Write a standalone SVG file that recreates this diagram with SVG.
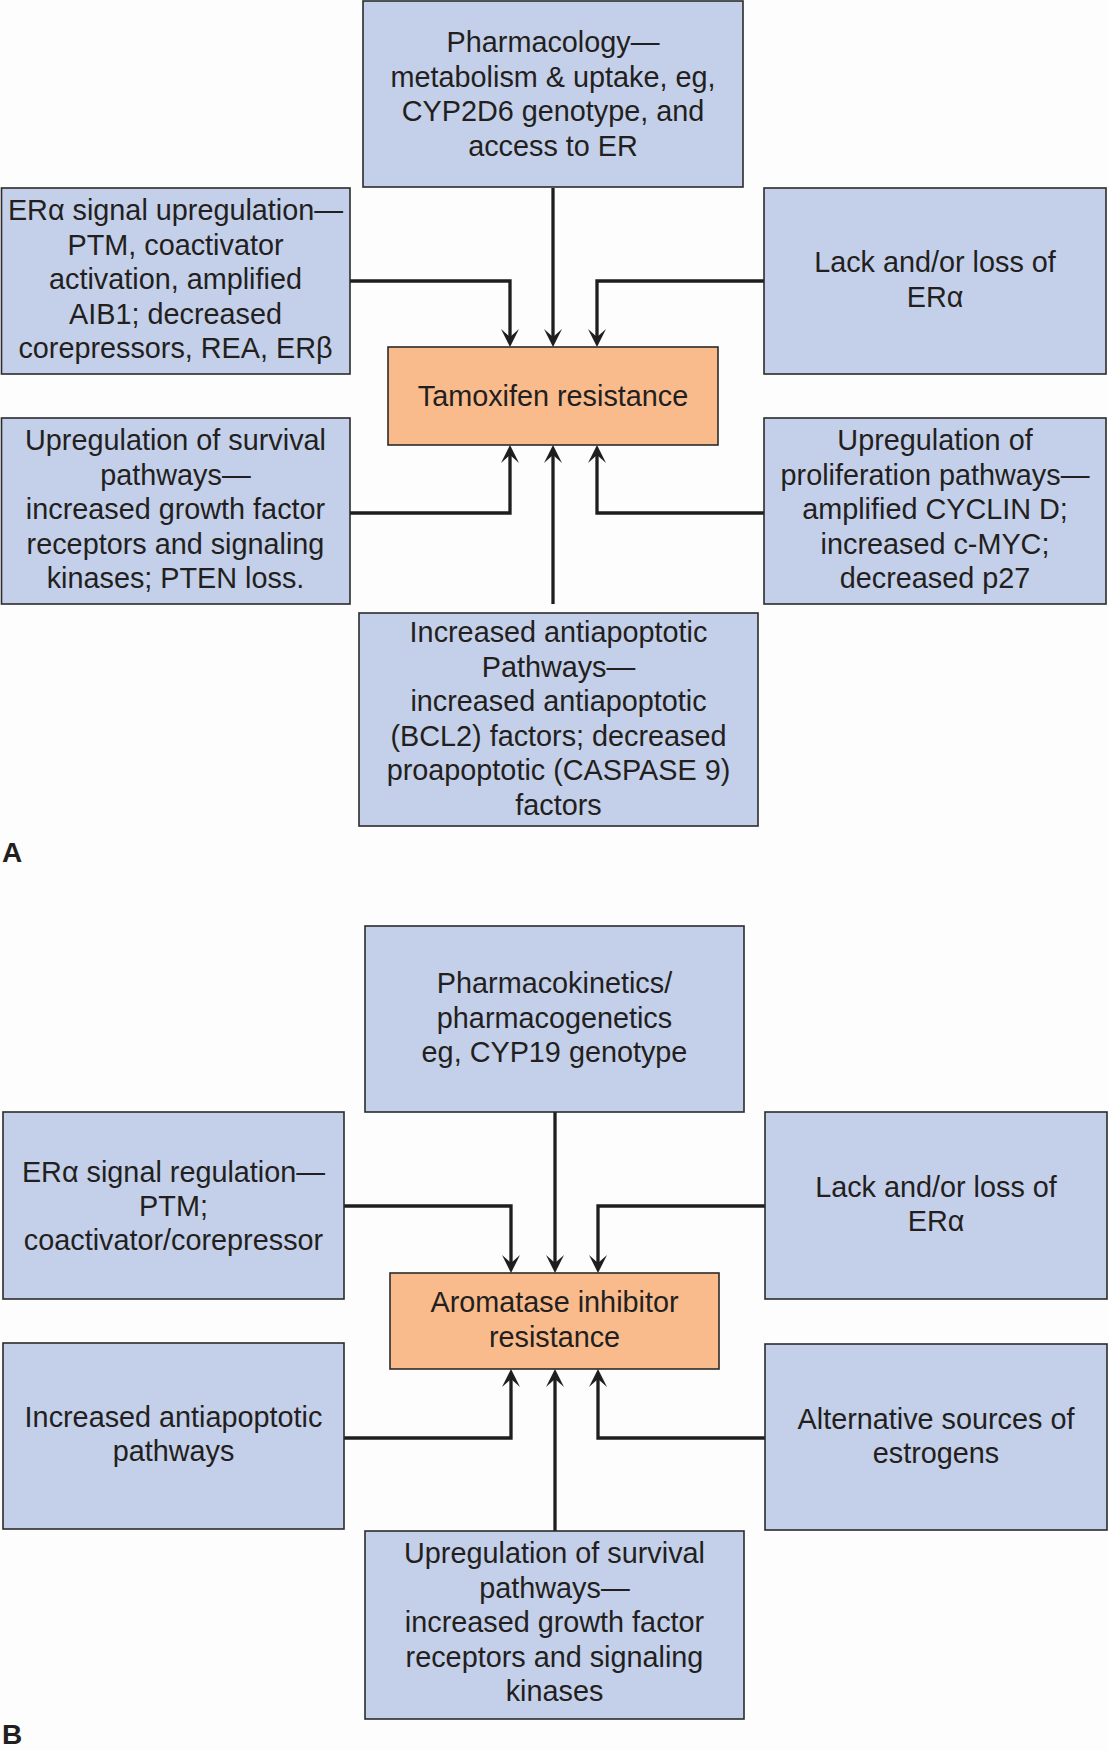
<svg xmlns="http://www.w3.org/2000/svg" width="1108" height="1751" viewBox="0 0 1108 1751">
<style>
.box{fill:#c4d0e9;stroke:#2b2b2b;stroke-width:1.6}
.hub{fill:#f9bb8c;stroke:#2b2b2b;stroke-width:1.6}
text{font-family:"Liberation Sans",Arial,sans-serif;font-size:28.8px;fill:#231f20;text-anchor:middle}
.lbl{font-weight:bold;font-size:28px;text-anchor:start}
.conn{fill:none;stroke:#1e1e1e;stroke-width:3.3}
</style>
<defs>
<marker id="ah" viewBox="-19 -10 20 20" refX="-9" refY="0" markerWidth="20" markerHeight="20" markerUnits="userSpaceOnUse" orient="auto">
<path d="M0,0 L-18,-9 L-10,0 L-18,9 Z" fill="#1e1e1e"/>
</marker>
</defs>
<rect x="0" y="0" width="1108" height="1751" fill="#fdfdfd"/>

<g id="connectors">
<path class="conn" d="M553,188 V338" marker-end="url(#ah)"/>
<path class="conn" d="M350,281 H510 V338" marker-end="url(#ah)"/>
<path class="conn" d="M764,281 H597 V338" marker-end="url(#ah)"/>
<path class="conn" d="M350,513 H510 V454" marker-end="url(#ah)"/>
<path class="conn" d="M553,604 V454" marker-end="url(#ah)"/>
<path class="conn" d="M764,513 H597 V454" marker-end="url(#ah)"/>

<path class="conn" d="M555,1112 V1264" marker-end="url(#ah)"/>
<path class="conn" d="M344,1206 H511 V1264" marker-end="url(#ah)"/>
<path class="conn" d="M765,1206 H598 V1264" marker-end="url(#ah)"/>
<path class="conn" d="M344,1438 H511 V1378" marker-end="url(#ah)"/>
<path class="conn" d="M555,1531 V1378" marker-end="url(#ah)"/>
<path class="conn" d="M765,1438 H598 V1378" marker-end="url(#ah)"/>
</g>

<g id="a-pharmacology">
<rect class="box" x="363" y="1" width="380" height="186"/>
<text x="553" y="52">Pharmacology—</text>
<text x="553" y="86.5">metabolism &amp; uptake, eg,</text>
<text x="553" y="121">CYP2D6 genotype, and</text>
<text x="553" y="155.5">access to ER</text>
</g>

<g id="a-era-signal">
<rect class="box" x="1.5" y="188" width="348.5" height="186"/>
<text x="175.5" y="220">ERα signal upregulation—</text>
<text x="175.5" y="254.5">PTM, coactivator</text>
<text x="175.5" y="289">activation, amplified</text>
<text x="175.5" y="323.5">AIB1; decreased</text>
<text x="175.5" y="358">corepressors, REA, ERβ</text>
</g>

<g id="a-lack-era">
<rect class="box" x="764" y="188" width="342" height="186"/>
<text x="935" y="272">Lack and/or loss of</text>
<text x="935" y="306.5">ERα</text>
</g>

<g id="a-tamoxifen">
<rect class="hub" x="388" y="347" width="330" height="98"/>
<text x="553" y="406">Tamoxifen resistance</text>
</g>

<g id="a-survival">
<rect class="box" x="1.5" y="418" width="348.5" height="186"/>
<text x="175.5" y="450">Upregulation of survival</text>
<text x="175.5" y="484.5">pathways—</text>
<text x="175.5" y="519">increased growth factor</text>
<text x="175.5" y="553.5">receptors and signaling</text>
<text x="175.5" y="588">kinases; PTEN loss.</text>
</g>

<g id="a-proliferation">
<rect class="box" x="764" y="418" width="342" height="186"/>
<text x="935" y="450">Upregulation of</text>
<text x="935" y="484.5">proliferation pathways—</text>
<text x="935" y="519">amplified CYCLIN D;</text>
<text x="935" y="553.5">increased c-MYC;</text>
<text x="935" y="588">decreased p27</text>
</g>

<g id="a-antiapoptotic">
<rect class="box" x="359" y="613" width="399" height="213"/>
<text x="558.5" y="642">Increased antiapoptotic</text>
<text x="558.5" y="676.5">Pathways—</text>
<text x="558.5" y="711">increased antiapoptotic</text>
<text x="558.5" y="745.5">(BCL2) factors; decreased</text>
<text x="558.5" y="780">proapoptotic (CASPASE 9)</text>
<text x="558.5" y="814.5">factors</text>
</g>

<text class="lbl" x="2" y="862">A</text>

<g id="b-pharmacokinetics">
<rect class="box" x="365" y="926" width="379" height="186"/>
<text x="554.5" y="993">Pharmacokinetics/</text>
<text x="554.5" y="1027.5">pharmacogenetics</text>
<text x="554.5" y="1062">eg, CYP19 genotype</text>
</g>

<g id="b-era-signal">
<rect class="box" x="3" y="1112" width="341" height="187"/>
<text x="173.5" y="1182">ERα signal regulation—</text>
<text x="173.5" y="1216">PTM;</text>
<text x="173.5" y="1250">coactivator/corepressor</text>
</g>

<g id="b-lack-era">
<rect class="box" x="765" y="1112" width="342" height="187"/>
<text x="936" y="1197">Lack and/or loss of</text>
<text x="936" y="1231">ERα</text>
</g>

<g id="b-aromatase">
<rect class="hub" x="390" y="1273" width="329" height="96"/>
<text x="554.5" y="1312">Aromatase inhibitor</text>
<text x="554.5" y="1346.5">resistance</text>
</g>

<g id="b-antiapoptotic">
<rect class="box" x="3" y="1343" width="341" height="186"/>
<text x="173.5" y="1427">Increased antiapoptotic</text>
<text x="173.5" y="1461">pathways</text>
</g>

<g id="b-alt-estrogens">
<rect class="box" x="765" y="1344" width="342" height="186"/>
<text x="936" y="1429">Alternative sources of</text>
<text x="936" y="1463">estrogens</text>
</g>

<g id="b-survival">
<rect class="box" x="365" y="1531" width="379" height="188"/>
<text x="554.5" y="1563">Upregulation of survival</text>
<text x="554.5" y="1597.5">pathways—</text>
<text x="554.5" y="1632">increased growth factor</text>
<text x="554.5" y="1666.5">receptors and signaling</text>
<text x="554.5" y="1701">kinases</text>
</g>

<text class="lbl" x="2" y="1744">B</text>
</svg>
